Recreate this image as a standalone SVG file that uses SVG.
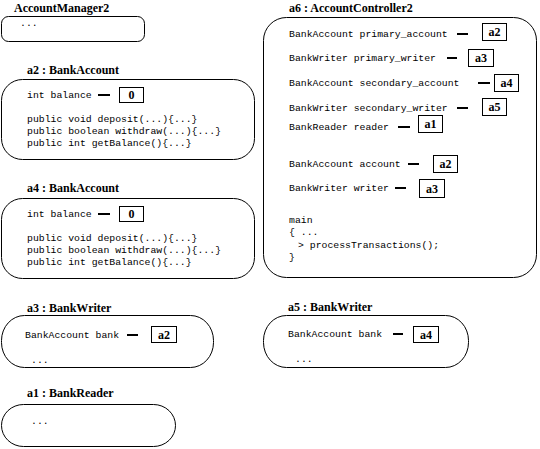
<svg xmlns="http://www.w3.org/2000/svg" width="540" height="449" viewBox="0 0 540 449">
<style>
.t{font-family:"Liberation Serif",serif;font-weight:bold;font-size:12px;fill:#000}
.v{font-family:"Liberation Serif",serif;font-weight:bold;font-size:12px;fill:#000;text-anchor:middle}
.c{font-family:"Liberation Mono",monospace;font-size:9.8px;fill:#000}
.b{fill:#fff;stroke:#000;stroke-width:1}
.vb{fill:#fff;stroke:#000;stroke-width:1}
.d{stroke:#000;stroke-width:2}
</style>
<rect width="540" height="449" fill="#fff"/>

<g id="AccountManager2">
<text class="t" x="14" y="12">AccountManager2</text>
<rect class="b" x="1.5" y="16.5" width="143" height="25" rx="7"/>
<text class="c" x="20" y="26">...</text>
</g>

<g id="a2">
<text class="t" x="27" y="74">a2 : BankAccount</text>
<rect class="b" x="1.5" y="79.5" width="253" height="80" rx="21"/>
<text class="c" x="27" y="98">int balance</text>
<rect class="vb" x="119.5" y="87.5" width="24" height="15"/>
<text class="v" x="131.5" y="99">0</text>
<text class="c" x="27" y="122">public void deposit(...){...}</text>
<text class="c" x="27" y="134">public boolean withdraw(...){...}</text>
<text class="c" x="27" y="146">public int getBalance(){...}</text>
</g>

<g id="a4">
<text class="t" x="27" y="192">a4 : BankAccount</text>
<rect class="b" x="1.5" y="198.5" width="253" height="80" rx="21"/>
<text class="c" x="27" y="217">int balance</text>
<rect class="vb" x="119.5" y="206.5" width="24" height="15"/>
<text class="v" x="131.5" y="218">0</text>
<text class="c" x="27" y="241">public void deposit(...){...}</text>
<text class="c" x="27" y="253">public boolean withdraw(...){...}</text>
<text class="c" x="27" y="265">public int getBalance(){...}</text>
</g>

<g id="a6">
<text class="t" x="289" y="12">a6 : AccountController2</text>
<rect class="b" x="263.5" y="17.5" width="273" height="260" rx="23"/>
<text class="c" x="289" y="37">BankAccount primary_account</text>
<rect class="vb" x="482.5" y="23.5" width="24" height="17"/>
<text class="v" x="494.5" y="36">a2</text>
<text class="c" x="289" y="61">BankWriter primary_writer</text>
<rect class="vb" x="468.5" y="49.5" width="25" height="17"/>
<text class="v" x="481" y="62">a3</text>
<text class="c" x="289" y="86">BankAccount secondary_account</text>
<rect class="vb" x="494.5" y="74.5" width="24" height="17"/>
<text class="v" x="506.5" y="87">a4</text>
<text class="c" x="289" y="111">BankWriter secondary_writer</text>
<rect class="vb" x="482.5" y="98.5" width="24" height="17"/>
<text class="v" x="494.5" y="111">a5</text>
<text class="c" x="289" y="130">BankReader reader</text>
<rect class="vb" x="418.5" y="115.5" width="24" height="17"/>
<text class="v" x="430.5" y="128">a1</text>
<text class="c" x="289" y="167">BankAccount account</text>
<rect class="vb" x="433.5" y="155.5" width="24" height="17"/>
<text class="v" x="445.5" y="168">a2</text>
<text class="c" x="289" y="191">BankWriter writer</text>
<rect class="vb" x="419.5" y="179.5" width="25" height="18"/>
<text class="v" x="432" y="193">a3</text>
<text class="c" x="289" y="223">main</text>
<text class="c" x="289" y="235">{ ...</text>
<text class="c" x="298" y="248">&gt; processTransactions();</text>
<text class="c" x="289" y="260">}</text>
</g>

<g id="a3">
<text class="t" x="27" y="312">a3 : BankWriter</text>
<rect class="b" x="1.5" y="315.5" width="212" height="52" rx="23" ry="25"/>
<text class="c" x="25" y="338">BankAccount bank</text>
<rect class="vb" x="151.5" y="326.5" width="25" height="16"/>
<text class="v" x="164" y="339">a2</text>
<text class="c" x="31" y="363">...</text>
</g>

<g id="a5">
<text class="t" x="288" y="311">a5 : BankWriter</text>
<rect class="b" x="263.5" y="315.5" width="205" height="52" rx="23" ry="25"/>
<text class="c" x="288" y="337">BankAccount bank</text>
<rect class="vb" x="413.5" y="326.5" width="25" height="16"/>
<text class="v" x="426" y="339">a4</text>
<text class="c" x="295" y="362">...</text>
</g>

<g id="a1">
<text class="t" x="27" y="397">a1 : BankReader</text>
<rect class="b" x="1.5" y="404.5" width="174" height="42" rx="22" ry="21"/>
<text class="c" x="31" y="424">...</text>
</g>

<g id="connectors">
<line class="d" x1="98" y1="95" x2="110" y2="95"/>
<line class="d" x1="98" y1="214" x2="110" y2="214"/>
<line class="d" x1="457" y1="34" x2="468" y2="34"/>
<line class="d" x1="447" y1="58" x2="457" y2="58"/>
<line class="d" x1="478" y1="83" x2="490" y2="83"/>
<line class="d" x1="457" y1="108" x2="468" y2="108"/>
<line class="d" x1="398" y1="127" x2="410" y2="127"/>
<line class="d" x1="408" y1="164" x2="419" y2="164"/>
<line class="d" x1="395" y1="188" x2="406" y2="188"/>
<line class="d" x1="127" y1="335" x2="138" y2="335"/>
<line class="d" x1="393" y1="334" x2="403" y2="334"/>
</g>
</svg>
